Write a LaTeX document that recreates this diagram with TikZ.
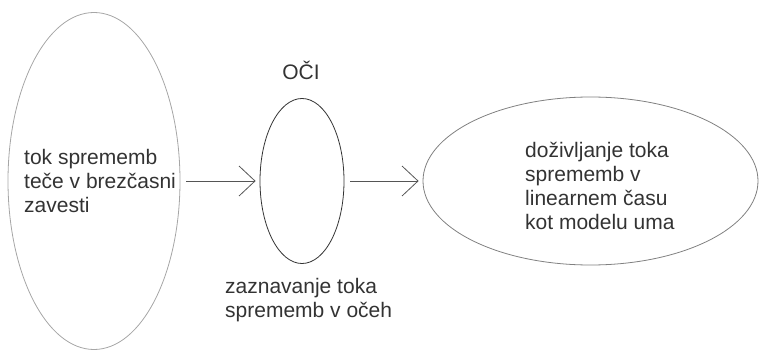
\documentclass[tikz,border=0pt]{standalone}
\usepackage{fontspec}
\setmainfont{Liberation Sans}
\usetikzlibrary{shapes.geometric,arrows.meta}
\definecolor{textgray}{HTML}{333333}
\definecolor{arrowgray}{HTML}{555555}
\begin{document}
\begin{tikzpicture}[x=1pt,y=-1pt,
  oval/.style={draw, ellipse, inner sep=0pt, line width=0.8pt},
  txt/.style={text=textgray, font=\fontsize{21}{24}\selectfont, align=left, inner sep=0pt, anchor=base west},
  flow/.style={draw=arrowgray, line width=1pt, -{Straight Barb[length=16pt,width=30pt,line width=0.8pt]}, shorten <=6pt, shorten >=4pt}
]
\useasboundingbox (0,0) rectangle (760,350);
\node[oval, draw=gray!70, minimum width=172pt, minimum height=337pt] (src) at (94,181) {};
\node[oval, draw=textgray, minimum width=84pt, minimum height=165pt] (eye) at (302,181) {};
\node[oval, draw=gray, minimum width=335pt, minimum height=168pt] (mind) at (590.5,181) {};
\node[txt] (srct) at (24,212) {tok sprememb\\teče v brezčasni\\zavesti};
\node[txt, anchor=base] (eyet) at (301,80) {OČI};
\node[txt] (eyel) at (225,317) {zaznavanje toka\\sprememb v očeh};
\node[txt] (mindt) at (525,229) {doživljanje toka\\sprememb v\\linearnem času\\kot modelu uma};
\draw[flow] (src) -- (eye);
\draw[flow] (eye) -- (mind);
\end{tikzpicture}
\end{document}
